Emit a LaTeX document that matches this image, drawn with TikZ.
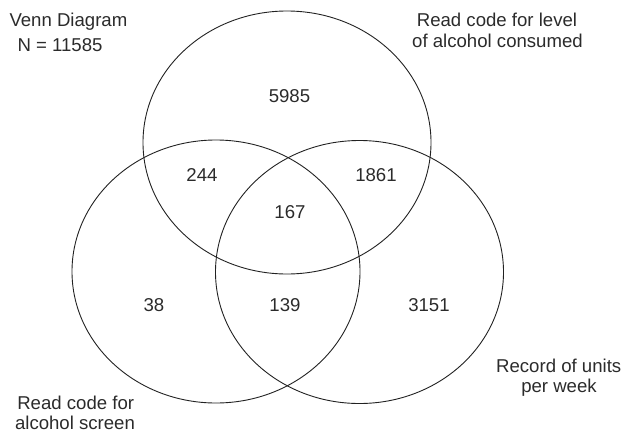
\documentclass[tikz,border=0pt]{standalone}
\usepackage{fontspec}
\setmainfont{Liberation Sans}
\usetikzlibrary{shapes.geometric}
\definecolor{ink}{HTML}{222222}
\definecolor{txt}{HTML}{2B2B2B}
\tikzset{
  setshape/.style={draw=ink, line width=0.9pt, ellipse, inner sep=0pt,
    minimum width=288pt, minimum height=263pt},
  lbl/.style={text=txt, inner sep=0pt, anchor=base,
    font=\fontsize{18.6}{22}\selectfont},
  cnt/.style={lbl}
}
\begin{document}
\begin{tikzpicture}[x=1pt, y=-1pt]
  \useasboundingbox (0,0) rectangle (624,432);

  % the three sets
  \node[setshape] (level)  at (287,142.5) {};
  \node[setshape] (screen) at (216,271.5) {};
  \node[setshape] (units)  at (359.5,272) {};

  % headings
  \node[lbl, anchor=base west] (title) at (9.3,26) {Venn Diagram};
  \node[lbl, anchor=base west] (total) at (17.3,51.7) {N = 11585};

  % set names
  \node[lbl] (levelA)  at (497,26)    {Read code for level};
  \node[lbl] (levelB)  at (497.5,47.7) {of alcohol consumed};
  \node[lbl] (unitsA)  at (558.7,372) {Record of units};
  \node[lbl] (unitsB)  at (559,392)   {per week};
  \node[lbl] (screenA) at (75.7,409)  {Read code for};
  \node[lbl] (screenB) at (75,429.5)  {alcohol screen};

  % region counts
  \node[cnt] (nL)   at (289.5,102.7) {5985};
  \node[cnt] (nLS)  at (202,181.7)   {244};
  \node[cnt] (nLU)  at (376,181.7)   {1861};
  \node[cnt] (nLSU) at (290,218.7)   {167};
  \node[cnt] (nS)   at (154,311.7)   {38};
  \node[cnt] (nSU)  at (285,311.7)   {139};
  \node[cnt] (nU)   at (429,311.7)   {3151};
\end{tikzpicture}
\end{document}
